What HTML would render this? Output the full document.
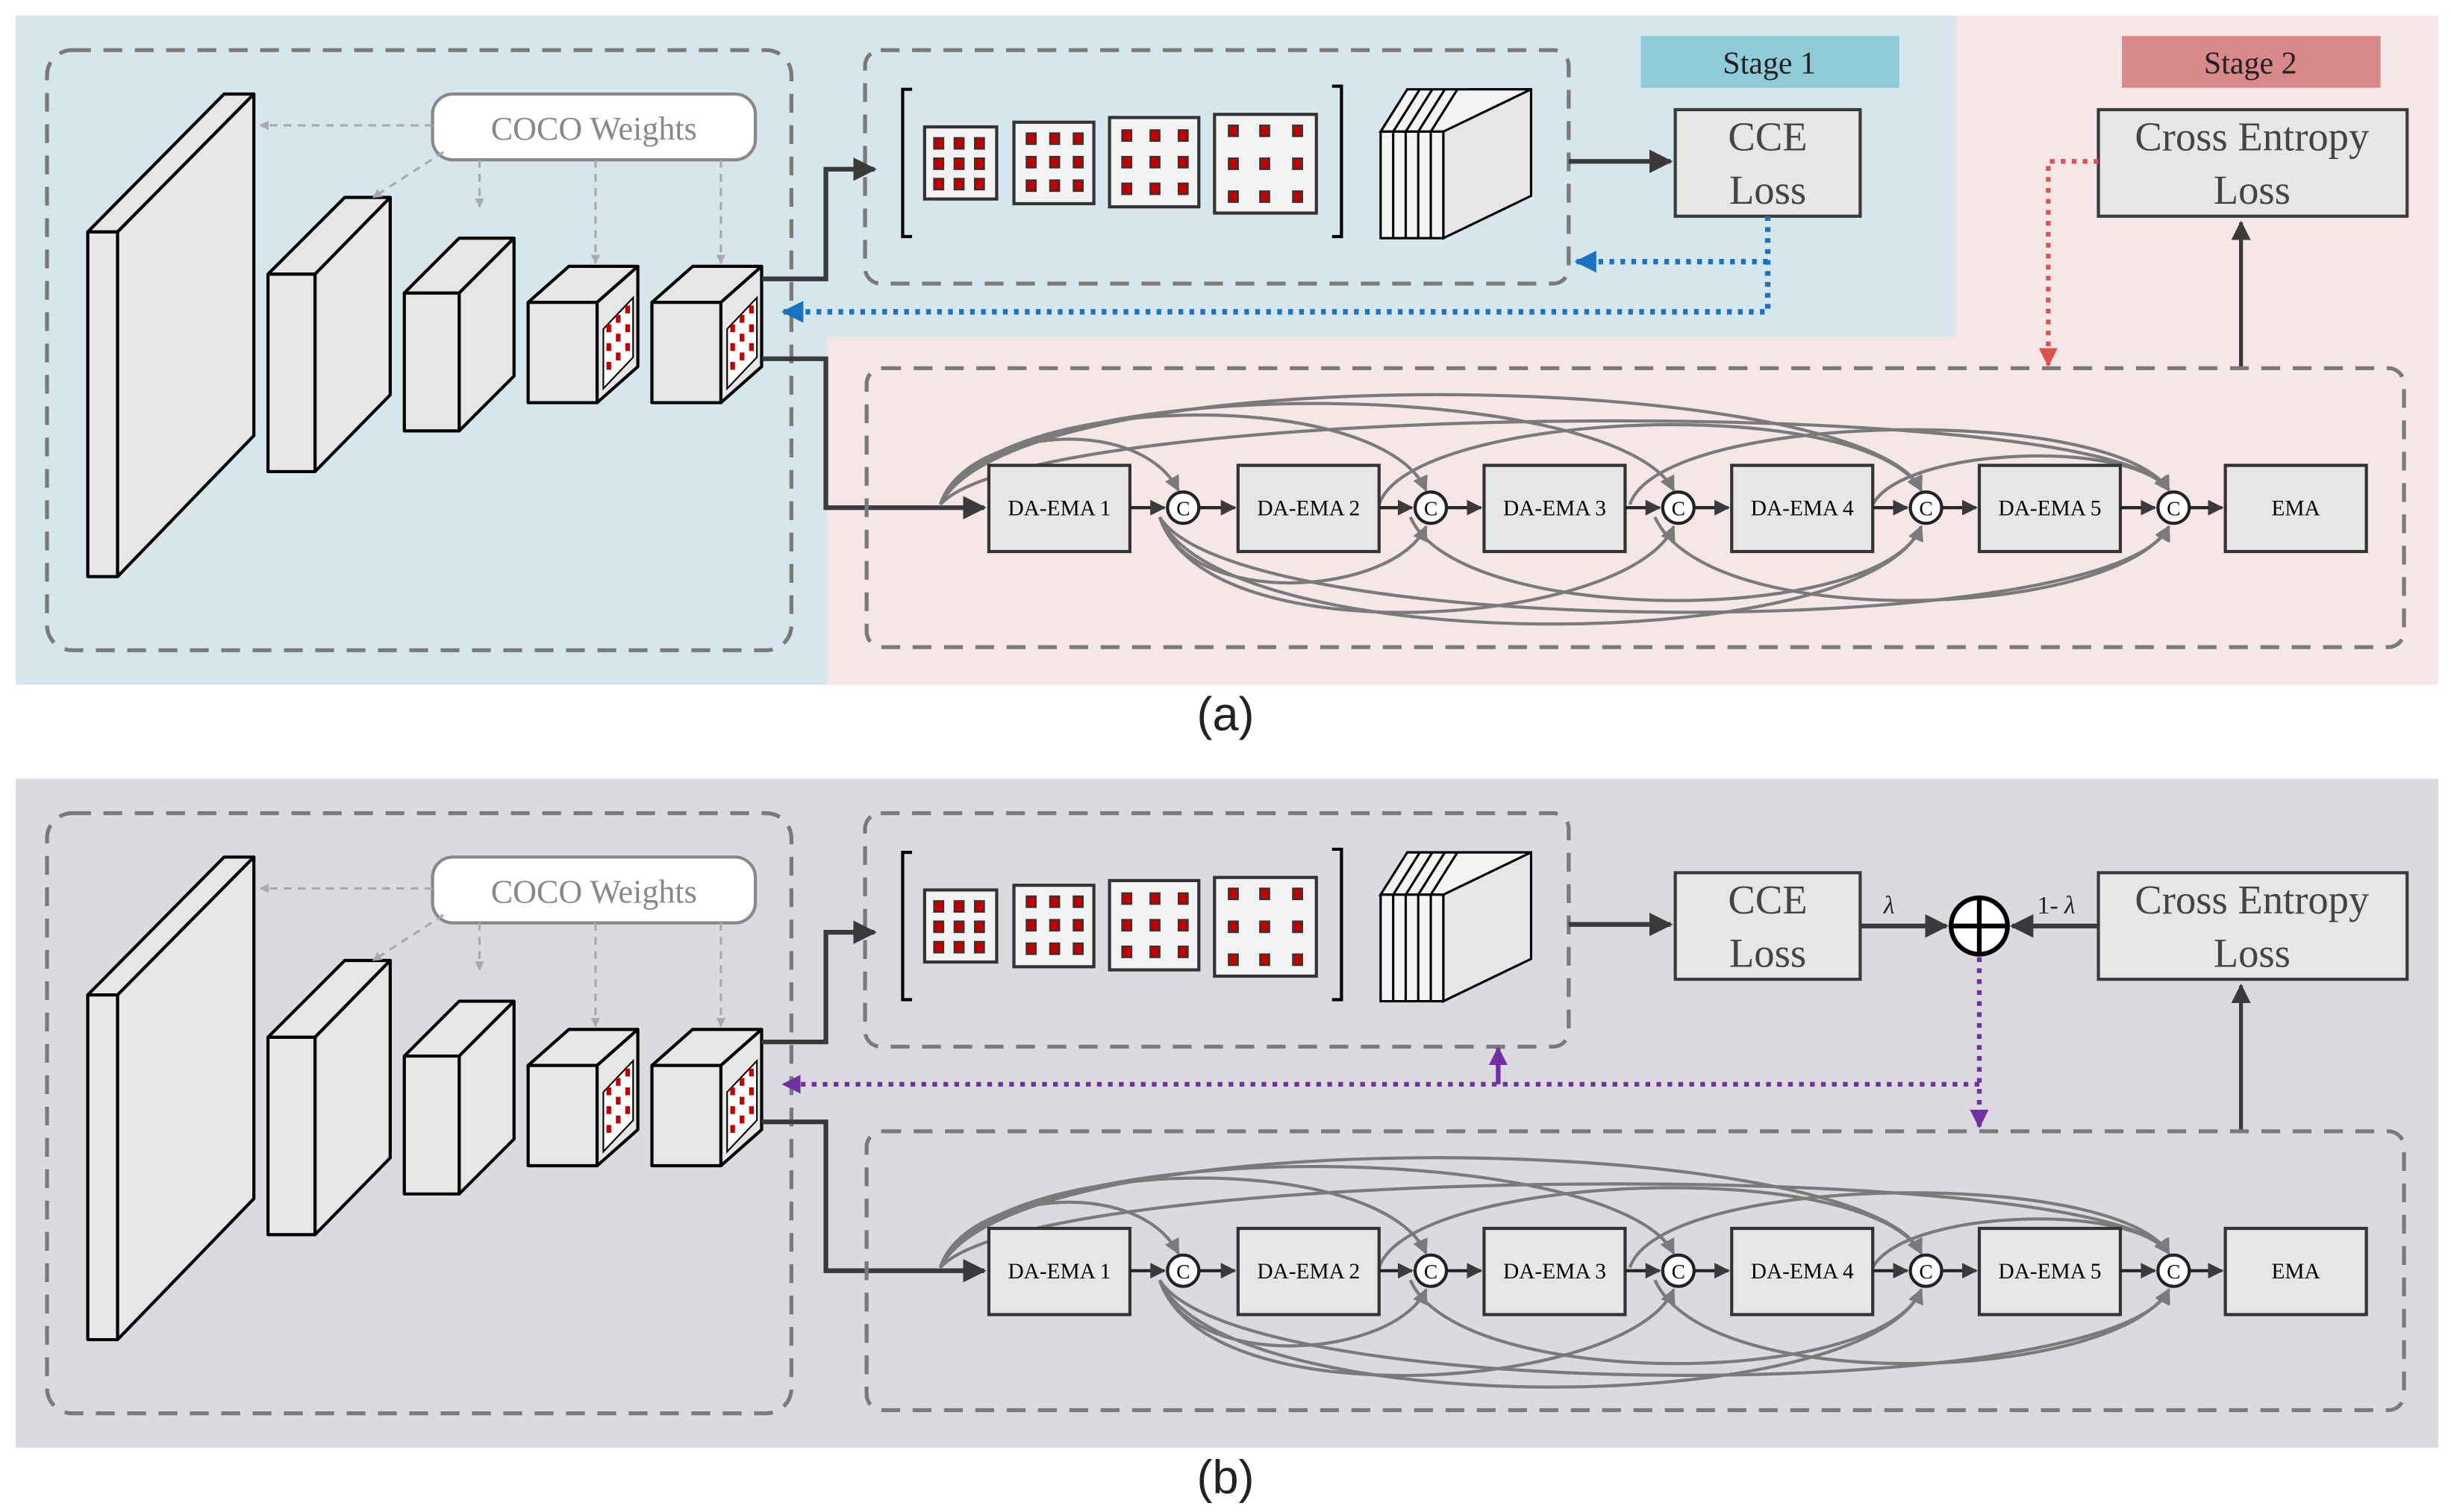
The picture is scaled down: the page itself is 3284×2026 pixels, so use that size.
<!DOCTYPE html>
<html><head><meta charset="utf-8"><style>html,body{margin:0;padding:0;background:#fff}svg{display:block}</style></head>
<body>
<svg width="3284" height="2026" viewBox="0 0 1564 965" preserveAspectRatio="none" xmlns="http://www.w3.org/2000/svg" font-family="Liberation Serif, serif">
<defs>
<marker id="ad" viewBox="0 0 10 10" refX="9" refY="5" markerWidth="5" markerHeight="5" orient="auto"><path d="M0,0L10,5L0,10z" fill="#3a3a3a"/></marker>
<marker id="ag" viewBox="0 0 10 10" refX="9" refY="5" markerWidth="4" markerHeight="4" orient="auto"><path d="M0,0L10,5L0,10z" fill="#aaa"/></marker>
<marker id="ac" viewBox="0 0 10 10" refX="9" refY="5" markerWidth="5" markerHeight="5" orient="auto"><path d="M0,0L10,5L0,10z" fill="#7a7a7a"/></marker>
<marker id="ab" viewBox="0 0 10 10" refX="9" refY="5" markerWidth="4" markerHeight="4" orient="auto"><path d="M0,0L10,5L0,10z" fill="#1a73c0"/></marker>
<marker id="ar" viewBox="0 0 10 10" refX="9" refY="5" markerWidth="4" markerHeight="4" orient="auto"><path d="M0,0L10,5L0,10z" fill="#e05050"/></marker>
<marker id="ap" viewBox="0 0 10 10" refX="9" refY="5" markerWidth="4" markerHeight="4" orient="auto"><path d="M0,0L10,5L0,10z" fill="#7030a0"/></marker>
<g id="shapes">
 <rect x="30" y="32" width="475" height="383" rx="16" fill="none" stroke="#7a7a7a" stroke-width="2.5" stroke-dasharray="12,8"/>
 <g stroke="#000" stroke-width="2" fill="#e6e6e6" stroke-linejoin="round">
  <polygon points="56,148 143,60 162,60 75,148"/><polygon points="75,148 162,60 162,278 75,368"/><rect x="56" y="148" width="19" height="220"/>
  <polygon points="171,175 220,126 249,126 201,175"/><polygon points="201,175 249,126 249,252 201,301"/><rect x="171" y="175" width="30" height="126"/>
  <polygon points="258,187 293,152 328,152 293,187"/><polygon points="293,187 328,152 328,240 293,275"/><rect x="258" y="187" width="35" height="88"/>
  <polygon points="337,193 363,170 407,170 381,193"/><polygon points="381,193 407,170 407,234 381,257"/><rect x="337" y="193" width="44" height="64"/>
  <polygon points="416,193 442,170 486,170 460,193"/><polygon points="460,193 486,170 486,234 460,257"/><rect x="416" y="193" width="44" height="64"/>
 </g>
 <g stroke="#000" stroke-width="1" fill="#fff">
  <polygon points="385,210 404,190 404,228 385,248"/><polygon points="464,210 483,190 483,228 464,248"/>
 </g>
 <g fill="#c00000">
  <rect x="387" y="207" width="3" height="5"/><rect x="393" y="201" width="3" height="5"/><rect x="399" y="195" width="3" height="5"/>
  <rect x="387" y="219" width="3" height="5"/><rect x="393" y="213" width="3" height="5"/><rect x="399" y="207" width="3" height="5"/>
  <rect x="387" y="231" width="3" height="5"/><rect x="393" y="225" width="3" height="5"/><rect x="399" y="219" width="3" height="5"/>
  <rect x="466" y="207" width="3" height="5"/><rect x="472" y="201" width="3" height="5"/><rect x="478" y="195" width="3" height="5"/>
  <rect x="466" y="219" width="3" height="5"/><rect x="472" y="213" width="3" height="5"/><rect x="478" y="207" width="3" height="5"/>
  <rect x="466" y="231" width="3" height="5"/><rect x="472" y="225" width="3" height="5"/><rect x="478" y="219" width="3" height="5"/>
 </g>
 <rect x="276" y="60" width="206" height="42" rx="13" fill="#fff" stroke="#888" stroke-width="2"/>
 <g stroke="#aaa" stroke-width="1.5" stroke-dasharray="5,4" fill="none" marker-end="url(#ag)">
  <path d="M276,80H166"/><path d="M283,97L238,126"/><path d="M306,102V132"/><path d="M380,102V168"/><path d="M460,102V168"/>
 </g>
 <rect x="552" y="32" width="449" height="149" rx="10" fill="none" stroke="#7a7a7a" stroke-width="2.5" stroke-dasharray="12,8"/>
 <path d="M582,57H576V151H582M850,55H856V151H850" fill="none" stroke="#000" stroke-width="2"/>
 <g stroke="#333" stroke-width="2" fill="#f2f2f2">
  <rect x="590" y="81" width="46" height="46"/><rect x="647" y="78" width="51" height="52"/><rect x="708" y="75" width="57" height="57"/><rect x="775" y="73" width="65" height="63"/>
 </g>
 <g fill="#c00000" stroke="#333" stroke-width="1">
  <rect x="596" y="88" width="6" height="7"/><rect x="609" y="88" width="6" height="7"/><rect x="622" y="88" width="6" height="7"/>
  <rect x="596" y="101" width="6" height="7"/><rect x="609" y="101" width="6" height="7"/><rect x="622" y="101" width="6" height="7"/>
  <rect x="596" y="114" width="6" height="7"/><rect x="609" y="114" width="6" height="7"/><rect x="622" y="114" width="6" height="7"/>
  <rect x="655" y="85" width="6" height="7"/><rect x="670" y="85" width="6" height="7"/><rect x="685" y="85" width="6" height="7"/>
  <rect x="655" y="100" width="6" height="7"/><rect x="670" y="100" width="6" height="7"/><rect x="685" y="100" width="6" height="7"/>
  <rect x="655" y="115" width="6" height="7"/><rect x="670" y="115" width="6" height="7"/><rect x="685" y="115" width="6" height="7"/>
  <rect x="716" y="83" width="6" height="7"/><rect x="734" y="83" width="6" height="7"/><rect x="752" y="83" width="6" height="7"/>
  <rect x="716" y="100" width="6" height="7"/><rect x="734" y="100" width="6" height="7"/><rect x="752" y="100" width="6" height="7"/>
  <rect x="716" y="117" width="6" height="7"/><rect x="734" y="117" width="6" height="7"/><rect x="752" y="117" width="6" height="7"/>
  <rect x="784" y="80" width="6" height="7"/><rect x="804" y="80" width="6" height="7"/><rect x="825" y="80" width="6" height="7"/>
  <rect x="784" y="101" width="6" height="7"/><rect x="804" y="101" width="6" height="7"/><rect x="825" y="101" width="6" height="7"/>
  <rect x="784" y="122" width="6" height="7"/><rect x="804" y="122" width="6" height="7"/><rect x="825" y="122" width="6" height="7"/>
 </g>
 <g stroke="#000" stroke-width="1.5" fill="#e6e6e6">
  <polygon points="921,84 921,152 977,125 977,57 937,57"/>
  <polygon points="881,84 898,57 977,57 921,84" fill="#f4f4f4"/>
  <rect x="881" y="84" width="40" height="68" fill="#f4f4f4"/>
  <path d="M889,84V152M897,84V152M905,84V152M913,84V152M889,84L906,57M897,84L914,57M905,84L922,57M913,84L930,57" fill="none"/>
 </g>
 <path d="M486,178H527V108H558" fill="none" stroke="#3a3a3a" stroke-width="3" marker-end="url(#ad)"/>
 <path d="M486,229H527V324H628" fill="none" stroke="#3a3a3a" stroke-width="3" marker-end="url(#ad)"/>
 <path d="M1430,235V142" fill="none" stroke="#3a3a3a" stroke-width="2.5" marker-end="url(#ad)"/>
 <rect x="553" y="235" width="981" height="178" rx="10" fill="none" stroke="#7a7a7a" stroke-width="2.5" stroke-dasharray="12,8"/>
 <g fill="none" stroke="#7a7a7a" stroke-width="2" marker-end="url(#ac)">
  <path d="M600,322C615,275 725,262 752,313"/>
  <path d="M600,322C630,250 880,245 910,313"/>
  <path d="M600,322C640,235 1030,240 1068,313"/>
  <path d="M600,322C650,225 1190,235 1226,313"/>
  <path d="M600,322C660,255 1350,250 1384,313"/>
  <path d="M880,322C900,262 1190,250 1226,313"/>
  <path d="M1040,322C1060,262 1350,258 1384,313"/>
  <path d="M1195,322C1215,285 1360,280 1384,313"/>
  <path d="M740,330C760,390 890,380 910,336"/>
  <path d="M740,330C770,420 1040,400 1068,336"/>
  <path d="M740,330C780,420 1190,420 1226,336"/>
  <path d="M740,330C790,410 1350,410 1384,336"/>
  <path d="M900,330C930,400 1200,400 1226,336"/>
  <path d="M1056,330C1090,405 1350,395 1384,336"/>
 </g>
 <g stroke="#333" stroke-width="2" fill="#e6e6e6">
  <rect x="631" y="297" width="90" height="55"/><rect x="790" y="297" width="90" height="55"/><rect x="947" y="297" width="90" height="55"/>
  <rect x="1105" y="297" width="90" height="55"/><rect x="1263" y="297" width="90" height="55"/><rect x="1420" y="297" width="90" height="55"/>
 </g>
 <g stroke="#222" stroke-width="2" fill="none" marker-end="url(#ad)">
  <path d="M721,324H743"/><path d="M765,324H788"/><path d="M880,324H901"/><path d="M923,324H945"/><path d="M1037,324H1059"/><path d="M1081,324H1103"/>
  <path d="M1195,324H1217"/><path d="M1239,324H1261"/><path d="M1353,324H1375"/><path d="M1397,324H1418"/>
 </g>
 <g stroke="#222" stroke-width="2" fill="#fff">
  <circle cx="755" cy="324" r="10"/><circle cx="913" cy="324" r="10"/><circle cx="1071" cy="324" r="10"/><circle cx="1229" cy="324" r="10"/><circle cx="1387" cy="324" r="10"/>
 </g>
 <path d="M1001,103H1066" stroke="#3a3a3a" stroke-width="3" marker-end="url(#ad)"/>
 <g stroke="#3a3a3a" stroke-width="2" fill="#e6e6e6">
  <rect x="1069" y="70" width="118" height="68"/><rect x="1339" y="70" width="197" height="68"/>
 </g>
</g>
<g id="labels">
 <text x="379" y="89" font-size="21" fill="#888" text-anchor="middle">COCO Weights</text>
 <g font-size="14" text-anchor="middle" fill="#000">
  <text x="676" y="329">DA-EMA 1</text><text x="835" y="329">DA-EMA 2</text><text x="992" y="329">DA-EMA 3</text>
  <text x="1150" y="329">DA-EMA 4</text><text x="1308" y="329">DA-EMA 5</text><text x="1465" y="329">EMA</text>
 </g>
 <g font-size="13" text-anchor="middle" fill="#000">
  <text x="755" y="329">C</text><text x="913" y="329">C</text><text x="1071" y="329">C</text><text x="1229" y="329">C</text><text x="1387" y="329">C</text>
 </g>
 <g font-size="26" text-anchor="middle" fill="#444">
  <text x="1128" y="96">CCE</text><text x="1128" y="130">Loss</text>
  <text x="1437" y="96">Cross Entropy</text><text x="1437" y="130">Loss</text>
 </g>
</g>
</defs>

<path d="M10,10H1248V215H528V437H10Z" fill="#d5e6ec"/>
<path d="M1248,10H1556V437H528V215H1248Z" fill="#f5e6e7"/>
<rect x="10" y="497" width="1546" height="427" fill="#dcd9e1"/>

<use href="#shapes"/>
<use href="#labels"/>
<rect x="1047" y="23" width="165" height="33" fill="#8fcbd8"/>
<text x="1129" y="47" font-size="20" text-anchor="middle" fill="#222">Stage 1</text>
<rect x="1354" y="23" width="165" height="33" fill="#d9898a"/>
<text x="1436" y="47" font-size="20" text-anchor="middle" fill="#222">Stage 2</text>
<path d="M1128,138V199H500" fill="none" stroke="#1a73c0" stroke-width="3.5" stroke-dasharray="3,4" marker-end="url(#ab)"/>
<path d="M1128,167H1006" fill="none" stroke="#1a73c0" stroke-width="3.5" stroke-dasharray="3,4" marker-end="url(#ab)"/>
<path d="M1339,103H1307V233" fill="none" stroke="#e05050" stroke-width="3" stroke-dasharray="3,4" marker-end="url(#ar)"/>
<text x="782" y="466" font-family="Liberation Sans, sans-serif" font-size="30" text-anchor="middle" fill="#222">(a)</text>

<g transform="translate(0,487)">
 <use href="#shapes"/>
 <use href="#labels"/>
 <path d="M1187,104H1242" stroke="#3a3a3a" stroke-width="3" marker-end="url(#ad)"/>
 <path d="M1339,104H1284" stroke="#3a3a3a" stroke-width="3" marker-end="url(#ad)"/>
 <circle cx="1263" cy="104" r="18" fill="#fff" stroke="#000" stroke-width="3"/>
 <path d="M1245,104H1281M1263,86V122" stroke="#000" stroke-width="3"/>
 <text x="1202" y="96" font-size="16" font-style="italic" fill="#222">λ</text>
 <text x="1300" y="96" font-size="16" fill="#222">1- <tspan font-style="italic">λ</tspan></text>
 <path d="M1263,124V232" fill="none" stroke="#7030a0" stroke-width="3" stroke-dasharray="3,4" marker-end="url(#ap)"/>
 <path d="M1263,205H500" fill="none" stroke="#7030a0" stroke-width="3" stroke-dasharray="3,4" marker-end="url(#ap)"/>
 <path d="M956,205V182" fill="none" stroke="#7030a0" stroke-width="3" marker-end="url(#ap)"/>
</g>
<text x="782" y="953" font-family="Liberation Sans, sans-serif" font-size="30" text-anchor="middle" fill="#222">(b)</text>
</svg>
</body></html>
